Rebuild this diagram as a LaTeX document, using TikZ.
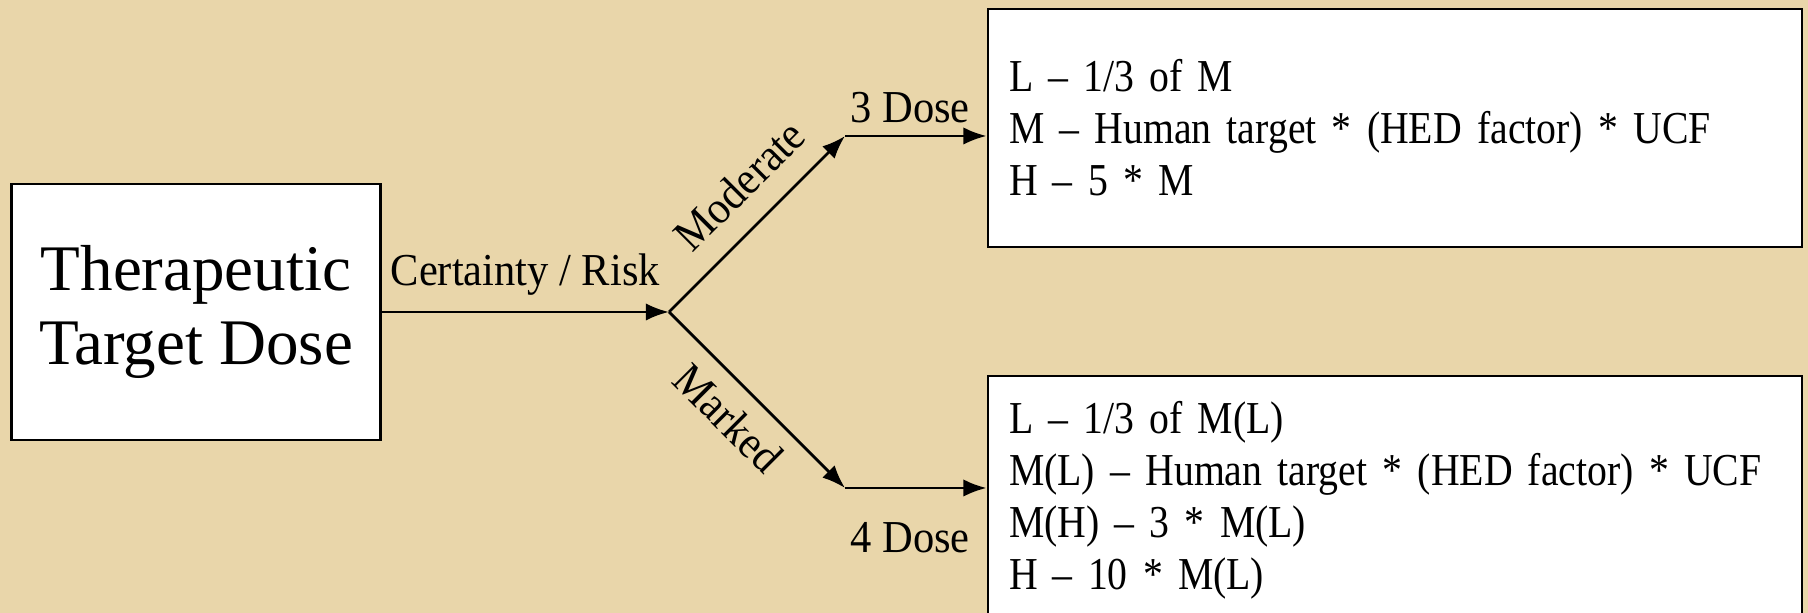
\documentclass[tikz,border=0pt]{standalone}
\usepackage{fontspec}
\setmainfont{Liberation Serif}
\newfontfamily\boxserif[FakeStretch=0.87]{Liberation Serif}
\newfontfamily\labelserif[FakeStretch=0.93]{Liberation Serif}
\usetikzlibrary{positioning, arrows.meta}
\definecolor{parchment}{RGB}{233,214,170}

\begin{document}
\begin{tikzpicture}[>=Latex, every node/.style={font=\labelserif\fontsize{13}{14.8}\selectfont},
  dosebox/.style={draw, thick, fill=white, align=left, text width=7.72cm, inner xsep=0.21cm,
                  font=\boxserif\fontsize{13}{14.8}\selectfont},
  flow/.style={->, line width=0.8pt}]
  % Background
  \fill[parchment] (0,0) rectangle (18.08,6.13);
  \useasboundingbox (0,0) rectangle (18.08,6.13);

  % Start box
  \node[draw, thick, fill=white, minimum width=3.685cm, minimum height=2.56cm, align=center,
        font=\rmfamily\fontsize{18.5}{21.3}\selectfont] (target) at (1.96,3.01) {Therapeutic\\Target Dose};

  % Branch points
  \coordinate (branch)     at (6.69,3.01);
  \coordinate (modCorner)  at (8.45,4.77);
  \coordinate (markCorner) at (8.45,1.25);

  % Dose boxes
  \node[dosebox, minimum height=2.38cm] (threeDose) at (13.95,4.85)
    {L – 1/3 of M\\M – Human target * (HED factor) * UCF\\H – 5 * M};
  \node[dosebox, minimum height=2.48cm] (fourDose) at (13.95,1.13)
    {L – 1/3 of M(L)\\M(L) – Human target * (HED factor) * UCF\\M(H) – 3 * M(L)\\H – 10 * M(L)};

  % Certainty / risk split
  \draw[flow] (target.east) -- (branch) node[midway, above=1pt] {Certainty / Risk};
  \draw[flow] (branch) -- (modCorner) node[pos=0.56, sloped, above=3pt] {Moderate};
  \draw[flow] (branch) -- (markCorner) node[pos=0.47, sloped, below=1pt] {Marked};

  % Into the dose boxes
  \draw[flow] (modCorner) -- (threeDose.west |- modCorner) node[pos=0.46, above] {3 Dose};
  \draw[flow] (markCorner) -- (fourDose.west |- markCorner) node[pos=0.46, below=6pt] {4 Dose};
\end{tikzpicture}
\end{document}
